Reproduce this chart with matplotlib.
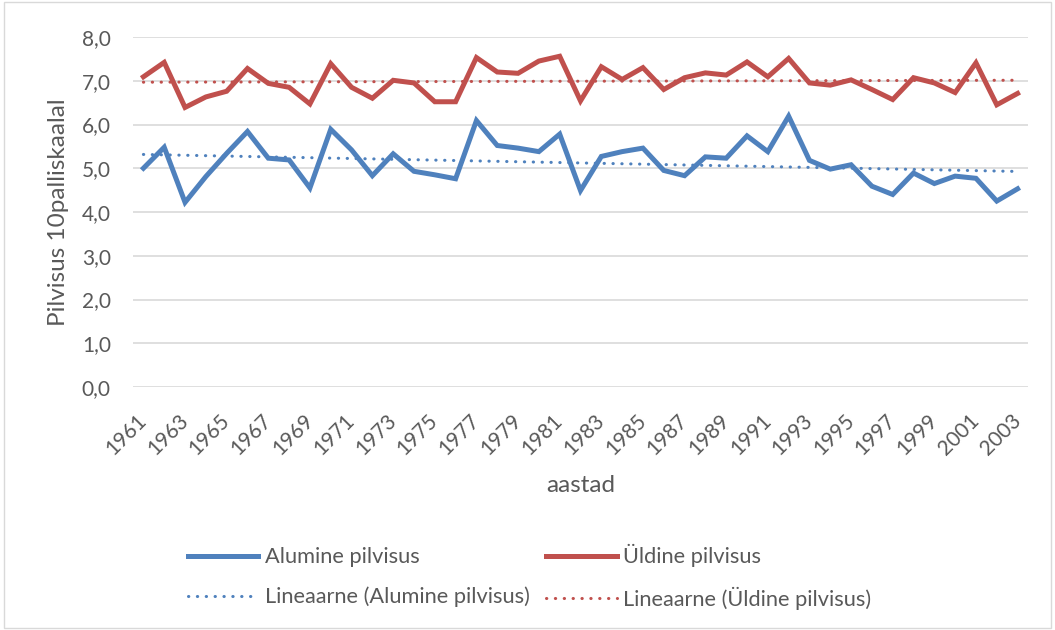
import numpy as np
import matplotlib.pyplot as plt
import matplotlib.transforms as mtransforms
from matplotlib.patches import Rectangle

plt.rcParams['font.family'] = ['Lato', 'DejaVu Sans']

# data
years = list(range(1961, 2004))
alumine = [5.00, 5.48, 4.22, 4.81, 5.34, 5.84, 5.23, 5.19, 4.55, 5.89,
           5.42, 4.83, 5.33, 4.93, 4.85, 4.76, 6.09, 5.52, 5.46, 5.38,
           5.78, 4.49, 5.27, 5.38, 5.46, 4.95, 4.83, 5.26, 5.23, 5.74,
           5.38, 6.19, 5.18, 4.98, 5.08, 4.59, 4.40, 4.89, 4.65, 4.82,
           4.77, 4.25, 4.53]
uldine = [7.09, 7.42, 6.39, 6.63, 6.76, 7.28, 6.94, 6.85, 6.47, 7.39,
          6.85, 6.60, 7.01, 6.95, 6.52, 6.52, 7.53, 7.20, 7.17, 7.45,
          7.56, 6.54, 7.32, 7.03, 7.30, 6.80, 7.07, 7.18, 7.13, 7.43,
          7.09, 7.51, 6.95, 6.90, 7.02, 6.80, 6.57, 7.07, 6.95, 6.73,
          7.41, 6.45, 6.71]
yticks = [0, 1, 2, 3, 4, 5, 6, 7, 8]

BLUE = '#4F81BD'
RED = '#C0504D'
TXT = '#595959'

x = np.arange(len(years))
fit_a = np.polyval(np.polyfit(x, alumine, 1), x)
fit_u = np.polyval(np.polyfit(x, uldine, 1), x)

fig = plt.figure(figsize=(10.55, 6.3), dpi=100)
fig.patches.append(Rectangle((0.004, 0.003), 0.992, 0.994, transform=fig.transFigure,
                             fill=False, edgecolor='#d9d9d9', lw=1))
ax = fig.add_axes([133 / 1055, 1 - 387 / 630, (1028 - 133) / 1055, 350 / 630])

dots = (0, (0.1, 2.8))
l1, = ax.plot(x, alumine, color=BLUE, lw=3.6, solid_joinstyle='miter', label='Alumine pilvisus')
l2, = ax.plot(x, uldine, color=RED, lw=3.6, solid_joinstyle='miter', label='Üldine pilvisus')
l3, = ax.plot(x, fit_a, color=BLUE, lw=2.2, linestyle=dots, dash_capstyle='round',
              label='Lineaarne (Alumine pilvisus)')
l4, = ax.plot(x, fit_u, color=RED, lw=2.2, linestyle=dots, dash_capstyle='round',
              label='Lineaarne (Üldine pilvisus)')

ax.set_xlim(-0.5, len(years) - 0.5)
ax.set_ylim(0, 8)
ax.set_yticks(yticks)
ax.set_yticklabels([f'{v:.1f}'.replace('.', ',') for v in yticks])
ax.set_xticks(x[::2])
ax.set_xticklabels([str(y) for y in years[::2]], rotation=45, ha='right', va='center',
                   rotation_mode='anchor')
shift = mtransforms.ScaledTranslation(4 / 72, 0, fig.dpi_scale_trans)
for lab in ax.get_xticklabels():
    lab.set_transform(lab.get_transform() + shift)
ax.grid(axis='y', color='#d9d9d9', lw=1.2)
ax.set_axisbelow(True)
for s in ax.spines.values():
    s.set_visible(False)
ax.tick_params(length=0, labelsize=15, colors=TXT)
ax.tick_params(axis='y', pad=16)
ax.tick_params(axis='x', pad=22)

ax.set_ylabel('Pilvisus 10palliskaalal', fontsize=17.5, color=TXT)
ax.set_xlabel('aastad', fontsize=17.5, color=TXT)
ax.yaxis.set_label_coords(-0.072, 0.5)
ax.xaxis.set_label_coords(0.5, -0.252)

fig.legend(handles=[l1, l3, l2, l4], ncol=2, loc='center left',
           bbox_to_anchor=(168 / 1055, 1 - 577 / 630), frameon=False, fontsize=15.7,
           labelcolor=TXT, handlelength=3.25, handletextpad=0.28,
           columnspacing=0.77, labelspacing=0.9, borderpad=0.4)

fig.savefig('out.png', dpi=100)
